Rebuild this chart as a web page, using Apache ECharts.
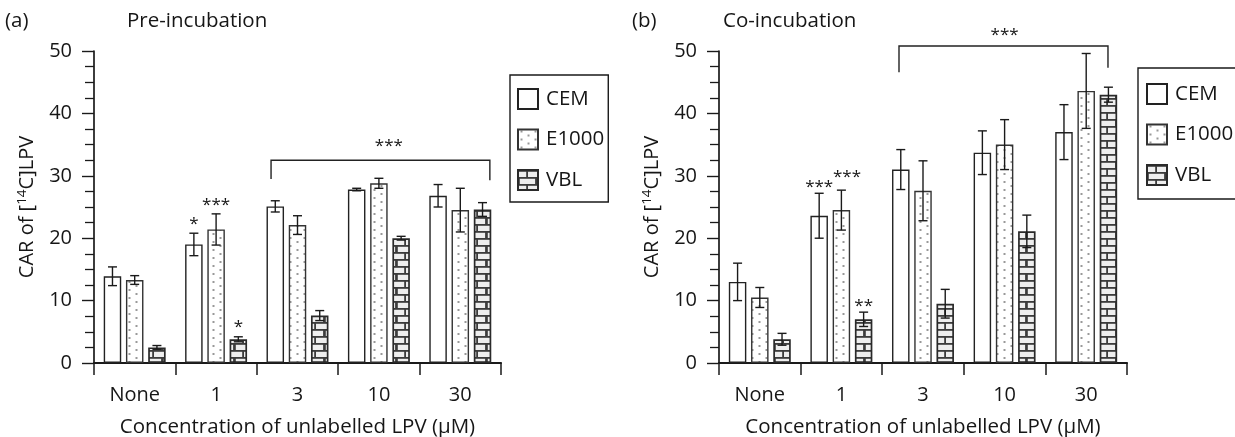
<!DOCTYPE html>
<html>
<head>
<meta charset="utf-8">
<script src="https://cdn.jsdelivr.net/npm/echarts@6/dist/echarts.min.js"></script>
<style>
html,body{margin:0;padding:0;background:#fff;}
#c{width:1235px;height:437px;}
</style>
</head>
<body>
<div id="c"></div>
<script>
// ---- data ----
const categories = ['None', '1', '3', '10', '30'];
const seriesNames = ['CEM', 'E1000', 'VBL'];
const yTicks = [0, 10, 20, 30, 40, 50];

const preCEM = [13.9, 19.0, 25.1, 27.8, 26.8];
const preCEMErr = [1.5, 1.8, 0.9, 0.2, 1.8];
const preE1000 = [13.3, 21.4, 22.1, 28.8, 24.5];
const preE1000Err = [0.7, 2.5, 1.5, 0.8, 3.5];
const preVBL = [2.5, 3.8, 7.6, 20.0, 24.6];
const preVBLErr = [0.3, 0.4, 0.8, 0.3, 1.1];

const coCEM = [13.0, 23.6, 31.0, 33.7, 37.0];
const coCEMErr = [3.0, 3.6, 3.2, 3.5, 4.4];
const coE1000 = [10.5, 24.5, 27.6, 35.0, 43.6];
const coE1000Err = [1.6, 3.2, 4.8, 4.0, 6.0];
const coVBL = [3.8, 7.0, 9.5, 21.1, 43.0];
const coVBLErr = [0.95, 1.15, 2.3, 2.6, 1.2];

// significance marks: [category, slot, y, text]
const preStars = [[1, -1, 22.8, '*'], [1, 0, 25.8, '***'], [1, 1, 6.25, '*'], [3, 0.45, 35.3, '***']];
const coStars = [[1, -1, 28.7, '***'], [1, 0.25, 30.3, '***'], [1, 1, 9.6, '**'], [3, 0, 53.0, '***']];
// brackets: [catLeft, slotLeft, catRight, slotRight, yTop, yLegLeft, yLegRight]
const preBracket = [[2, -1.19, 4, 1.33, 32.5, 29.5, 29.3]];
const coBracket = [[2, -1.08, 4, 0.98, 50.8, 46.6, 47.3]];

// ---- style constants ----
const FONT = '"Open Sans", "Noto Sans", sans-serif';
const TXT = '#161616';
const BAR_W = 17.5;
const GAP = 0.27;
const STEP = BAR_W * (1 + GAP);

function makeDots() {
  const c = document.createElement('canvas');
  c.width = 14; c.height = 8;
  const g = c.getContext('2d');
  g.fillStyle = '#fff'; g.fillRect(0, 0, 14, 8);
  g.fillStyle = '#999';
  g.fillRect(2.5, 1, 2, 2);
  g.fillRect(9.5, 5, 2, 2);
  return c;
}
function makeBricks() {
  const c = document.createElement('canvas');
  c.width = 18; c.height = 14;
  const g = c.getContext('2d');
  g.fillStyle = '#eeeeee'; g.fillRect(0, 0, 18, 14);
  g.fillStyle = '#3c3c3c';
  g.fillRect(0, 0, 18, 1.8);
  g.fillRect(0, 7, 18, 1.8);
  g.fillRect(8.2, 0, 1.8, 7);
  g.fillRect(0, 7, 1.8, 7);
  g.fillRect(17.1, 7, 0.9, 7);
  return c;
}
const fills = [
  { color: '#fff', borderColor: '#222', borderWidth: 1.4 },
  { color: { image: makeDots(), repeat: 'repeat' }, borderColor: '#333', borderWidth: 1.4 },
  { color: { image: makeBricks(), repeat: 'repeat' }, borderColor: '#2a2a2a', borderWidth: 1.7 }
];

function barSeries(name, values, k, panel) {
  return {
    type: 'bar', name: name, data: values,
    xAxisIndex: panel, yAxisIndex: panel,
    barWidth: BAR_W, barGap: (GAP * 100) + '%',
    itemStyle: fills[k], emphasis: { disabled: true }, animation: false, z: 2
  };
}
function errSeries(values, errs, k, panel) {
  return {
    type: 'custom', xAxisIndex: panel, yAxisIndex: panel, animation: false, z: 5,
    silent: true,
    data: values.map((v, i) => [i, v, errs[i]]),
    renderItem: function (params, api) {
      const i = api.value(0), v = api.value(1), e = api.value(2);
      const top = api.coord([i, v + e]);
      const bot = api.coord([i, v - e]);
      const x = top[0] + (k - 1) * STEP;
      const cw = 4.5;
      const st = { stroke: '#1a1a1a', lineWidth: 1.4 };
      return {
        type: 'group', children: [
          { type: 'line', shape: { x1: x, y1: top[1], x2: x, y2: bot[1] }, style: st },
          { type: 'line', shape: { x1: x - cw, y1: top[1], x2: x + cw, y2: top[1] }, style: st },
          { type: 'line', shape: { x1: x - cw, y1: bot[1], x2: x + cw, y2: bot[1] }, style: st }
        ]
      };
    }
  };
}
function starSeries(stars, panel) {
  return {
    type: 'custom', xAxisIndex: panel, yAxisIndex: panel, animation: false, z: 6, silent: true, clip: false,
    data: stars.map(s => [s[0], s[1], s[2]]),
    renderItem: function (params, api) {
      const p = api.coord([api.value(0), api.value(2)]);
      return {
        type: 'text',
        style: {
          x: p[0] + api.value(1) * STEP, y: p[1] + 3,
          text: stars[params.dataIndex][3],
          font: '17px ' + FONT, fill: TXT, align: 'center', verticalAlign: 'middle'
        }
      };
    }
  };
}
function bracketSeries(br, panel) {
  return {
    type: 'custom', xAxisIndex: panel, yAxisIndex: panel, animation: false, z: 6, silent: true, clip: false,
    data: br,
    renderItem: function (params, api) {
      const l = api.coord([api.value(0), api.value(4)]);
      const r = api.coord([api.value(2), api.value(4)]);
      const xl = l[0] + api.value(1) * STEP;
      const xr = r[0] + api.value(3) * STEP;
      const yl = api.coord([api.value(0), api.value(5)])[1];
      const yr = api.coord([api.value(2), api.value(6)])[1];
      return {
        type: 'polyline',
        shape: { points: [[xl, yl], [xl, l[1]], [xr, l[1]], [xr, yr]] },
        style: { stroke: '#222', lineWidth: 1.4, fill: null }
      };
    }
  };
}

function xAxisCfg(panel) {
  return {
    type: 'category', gridIndex: panel, data: categories,
    axisLine: { lineStyle: { color: '#1a1a1a', width: 2.2 } },
    axisTick: { show: true, alignWithLabel: false, interval: 0, length: 12, lineStyle: { color: '#1a1a1a', width: 1.5 } },
    axisLabel: { color: TXT, fontSize: 20, fontFamily: FONT, margin: 22 },
    name: 'Concentration of unlabelled LPV (µM)', nameLocation: 'middle', nameGap: 54,
    nameTextStyle: { color: TXT, fontSize: 20.5, fontFamily: FONT }
  };
}
function yAxisCfg(panel) {
  return {
    type: 'value', gridIndex: panel, min: yTicks[0], max: yTicks[yTicks.length - 1], interval: yTicks[1] - yTicks[0],
    axisLine: { show: true, lineStyle: { color: '#1a1a1a', width: 1.7 } },
    axisTick: { show: true, length: 12, lineStyle: { color: '#1a1a1a', width: 1.4 } },
    minorTick: { show: true, splitNumber: 4, length: 9, lineStyle: { color: '#1a1a1a', width: 1.3 } },
    splitLine: { show: false },
    axisLabel: { color: TXT, fontSize: 20, fontFamily: FONT, margin: 22 },
    name: '{t|CAR of [}{s|14}{t|C]LPV}', nameLocation: 'middle', nameGap: 55,
    nameTextStyle: {
      color: TXT, fontFamily: FONT,
      rich: {
        t: { fontSize: 20, fontFamily: FONT, color: TXT },
        s: { fontSize: 13.5, fontFamily: FONT, color: TXT, padding: [0, 0, 10, 0] }
      }
    }
  };
}
function legendCfg(panel, left, top, padding) {
  return {
    show: true, orient: 'vertical', left: left, top: top, padding: padding,
    itemGap: 18.5, itemWidth: 20, itemHeight: 20, icon: 'rect',
    borderColor: '#1a1a1a', borderWidth: 1.4, selectedMode: false,
    data: seriesNames,
    textStyle: { color: TXT, fontSize: 20.5, fontFamily: FONT, padding: [0, 0, 0, 3] }
  };
}

const chart = echarts.init(document.getElementById('c'), null, { renderer: 'canvas' });
const titleStyle = { color: TXT, fontSize: 20.5, fontFamily: FONT, fontWeight: 'normal' };
chart.setOption({
  animation: false,
  backgroundColor: '#fff',
  title: [
    { text: '(a)', left: 5, top: 11, textStyle: titleStyle, padding: 0 },
    { text: 'Pre-incubation', left: 127, top: 11, textStyle: titleStyle, padding: 0 },
    { text: '(b)', left: 632, top: 11, textStyle: titleStyle, padding: 0 },
    { text: 'Co-incubation', left: 723, top: 11, textStyle: titleStyle, padding: 0 }
  ],
  grid: [
    { left: 94, top: 51, width: 407, height: 312, outerBoundsMode: 'none', containLabel: false },
    { left: 719, top: 51, width: 408, height: 312, outerBoundsMode: 'none', containLabel: false }
  ],
  legend: [
    legendCfg(0, 510, 75, [13, 4, 11, 7]),
    legendCfg(1, 1138, 68, [15, 40, 13, 8])
  ],
  xAxis: [xAxisCfg(0), xAxisCfg(1)],
  yAxis: [yAxisCfg(0), yAxisCfg(1)],
  series: [
    barSeries('CEM', preCEM, 0, 0),
    barSeries('E1000', preE1000, 1, 0),
    barSeries('VBL', preVBL, 2, 0),
    barSeries('CEM', coCEM, 0, 1),
    barSeries('E1000', coE1000, 1, 1),
    barSeries('VBL', coVBL, 2, 1),
    errSeries(preCEM, preCEMErr, 0, 0),
    errSeries(preE1000, preE1000Err, 1, 0),
    errSeries(preVBL, preVBLErr, 2, 0),
    errSeries(coCEM, coCEMErr, 0, 1),
    errSeries(coE1000, coE1000Err, 1, 1),
    errSeries(coVBL, coVBLErr, 2, 1),
    starSeries(preStars, 0),
    starSeries(coStars, 1),
    bracketSeries(preBracket, 0),
    bracketSeries(coBracket, 1)
  ]
});
</script>
</body>
</html>
